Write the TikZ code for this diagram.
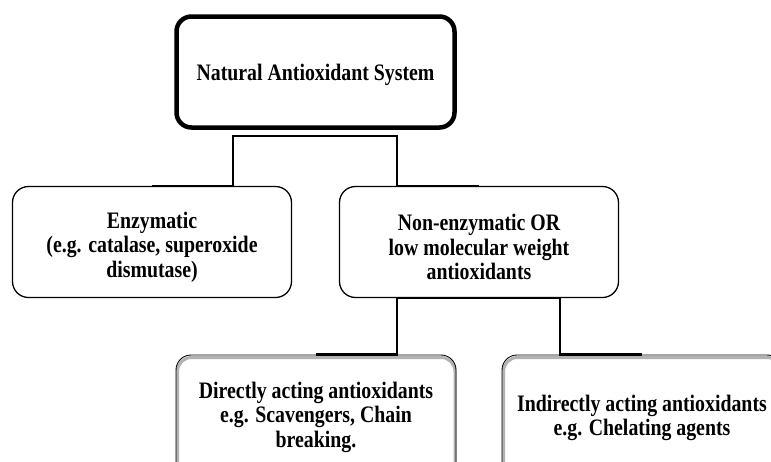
\documentclass[tikz,border=0pt]{standalone}
\usepackage{fontspec}
\setmainfont{Liberation Serif}[FakeStretch=0.84]
\begin{document}
\begin{tikzpicture}[x=1pt,y=-1pt,
  every node/.style={font=\bfseries\fontsize{23.6}{24.5}\selectfont, align=center, inner sep=0pt},
  topbox/.style={draw, line width=4.5pt, rounded corners=15pt, minimum width=278pt, minimum height=111pt},
  midbox/.style={draw, line width=1.3pt, rounded corners=16pt, minimum width=279pt, minimum height=111pt},
  lowbox/.style={draw, line width=0.9pt, rounded corners=15pt, minimum width=280pt, minimum height=124pt},
  shade/.style={gray!60, line width=3pt, rounded corners=14pt},
  conn/.style={line width=2.6pt}]
\useasboundingbox (0,0) rectangle (771,461);
\clip (0,0) rectangle (771,461);
\node[topbox] (top) at (315.5,72) {};
\node (topt) at (315.5,75) {Natural Antioxidant System};
\node[midbox] (enz) at (152,242) {};
\node (enzt) at (152,247) {Enzymatic\\(e.g. catalase, superoxide\\dismutase)};
\node[midbox] (non) at (479,242) {};
\node (nont) at (479,247) {Non-enzymatic OR\\low molecular weight\\antioxidants};
% lower boxes with grey shadow
\draw[shade] (177.5,357.5) rectangle (455,480);
\draw[shade] (503.5,357.5) rectangle (781,480);
\node[lowbox] (dir) at (316,417) {};
\node[lowbox] (ind) at (642,417) {};
\node (dirt) at (316,417) {Directly acting antioxidants\\e.g. Scavengers, Chain\\breaking.};
\node (indt) at (642,418) {Indirectly acting antioxidants\\e.g. Chelating agents};
\coordinate (a1) at (233,136);
\coordinate (a2) at (397,136);
\coordinate (b1) at (397,298);
\coordinate (b2) at (560,298);
\draw[conn] (enz.north) -| (a1) -- (a2) |- (non.north);
\draw[conn] (dir.north) -| (b1) -- (b2) |- (ind.north);
\end{tikzpicture}
\end{document}
